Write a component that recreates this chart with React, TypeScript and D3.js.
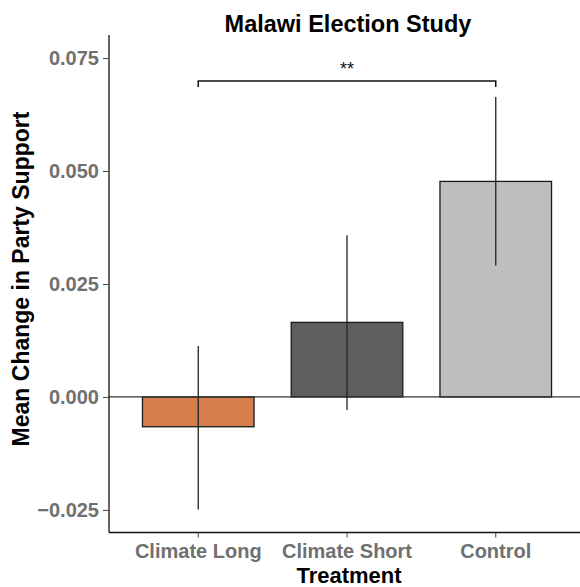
import React, { useEffect, useRef } from 'react';
import * as d3 from 'd3';

// treatment groups and their mean change with CI bounds
const categories = ['Climate Long', 'Climate Short', 'Control'];
const means = [-0.0066, 0.0165, 0.0477];
const lower = [-0.0249, -0.0029, 0.0291];
const upper = [0.0113, 0.0358, 0.0664];
const fills = ['#D67F4C', '#5E5E5E', '#BEBEBE'];
const yTicks = [-0.025, 0, 0.025, 0.05, 0.075];
const bracket = { from: 'Climate Long', to: 'Control', y: 0.0699, label: '**' };

const W = 580;
const H = 587;

const App = () => {
  const ref = useRef<SVGSVGElement>(null);

  useEffect(() => {
    const svg = d3.select(ref.current);
    svg.selectAll('*').remove();

    const margin = { top: 35, right: -5, bottom: 54.5, left: 109 };
    const font = '"Liberation Sans", Arial, Helvetica, sans-serif';

    const x = d3.scaleBand()
      .domain(categories)
      .range([margin.left, W - margin.right])
      .paddingInner(0.25)
      .paddingOuter(0.225);

    const y = d3.scaleLinear()
      .domain([-0.0300, 0.0801])
      .range([H - margin.bottom, margin.top]);

    const rows = categories.map((c, i) => ({ c, m: means[i], lo: lower[i], hi: upper[i], f: fills[i] }));
    const cx = (c: string) => (x(c) as number) + x.bandwidth() / 2;

    // bars
    svg.append('g')
      .selectAll('rect')
      .data(rows)
      .join('rect')
      .attr('x', d => x(d.c) as number)
      .attr('width', x.bandwidth())
      .attr('y', d => y(Math.max(0, d.m)))
      .attr('height', d => Math.abs(y(d.m) - y(0)))
      .attr('fill', d => d.f)
      .attr('stroke', '#1a1a1a')
      .attr('stroke-width', 1.3);

    // zero line
    svg.append('line')
      .attr('x1', margin.left).attr('x2', W)
      .attr('y1', y(0)).attr('y2', y(0))
      .attr('stroke', '#333').attr('stroke-width', 1.2);

    // error bars
    svg.append('g')
      .selectAll('line')
      .data(rows)
      .join('line')
      .attr('x1', d => cx(d.c)).attr('x2', d => cx(d.c))
      .attr('y1', d => y(d.lo)).attr('y2', d => y(d.hi))
      .attr('stroke', '#222').attr('stroke-width', 1.3);

    // significance bracket
    const bx1 = cx(bracket.from);
    const bx2 = cx(bracket.to);
    const by = y(bracket.y);
    svg.append('path')
      .attr('d', `M${bx1},${by + 6}V${by}H${bx2}V${by + 6}`)
      .attr('fill', 'none')
      .attr('stroke', '#111')
      .attr('stroke-width', 1.5);
    svg.append('text')
      .attr('x', (bx1 + bx2) / 2)
      .attr('y', by - 6)
      .attr('text-anchor', 'middle')
      .attr('font-family', font)
      .attr('font-size', 18)
      .attr('fill', '#111')
      .text(bracket.label);

    // y axis
    const fmt = d3.format('.3f');
    const yAxis = svg.append('g')
      .attr('transform', `translate(${margin.left},0)`)
      .call(d3.axisLeft(y).tickValues(yTicks).tickSize(6).tickPadding(4)
        .tickFormat(d => (+d < 0 ? '\u2212' + fmt(-d) : fmt(+d))));
    yAxis.select('.domain').attr('d', `M0,${margin.top}V${H - margin.bottom}`).attr('stroke', '#111').attr('stroke-width', 1.3);
    yAxis.selectAll('.tick line').attr('stroke', '#444');
    yAxis.selectAll('.tick text')
      .attr('font-family', font).attr('font-size', 20).attr('font-weight', 'bold').attr('fill', '#707070');

    // x axis
    const xAxis = svg.append('g')
      .attr('transform', `translate(0,${H - margin.bottom})`)
      .call(d3.axisBottom(x).tickSize(5).tickPadding(6));
    xAxis.select('.domain').attr('d', `M${margin.left},0H${W}`).attr('stroke', '#111').attr('stroke-width', 1.3);
    xAxis.selectAll('.tick line').attr('stroke', '#444');
    xAxis.selectAll('.tick text')
      .attr('font-family', font).attr('font-size', 20).attr('font-weight', 'bold').attr('fill', '#707070');

    // titles
    svg.append('text')
      .attr('x', 348).attr('y', 32)
      .attr('text-anchor', 'middle')
      .attr('font-family', font).attr('font-size', 23.5).attr('font-weight', 'bold')
      .text('Malawi Election Study');

    svg.append('text')
      .attr('x', 349).attr('y', 583)
      .attr('text-anchor', 'middle')
      .attr('font-family', font).attr('font-size', 22).attr('font-weight', 'bold')
      .text('Treatment');

    svg.append('text')
      .attr('transform', `translate(29,279) rotate(-90)`)
      .attr('text-anchor', 'middle')
      .attr('font-family', font).attr('font-size', 23).attr('font-weight', 'bold')
      .text('Mean Change in Party Support');
  }, []);

  return (
    <svg
      ref={ref}
      width={W}
      height={H}
      style={{ position: 'absolute', left: 0, top: 0, background: '#fff' }}
    />
  );
};

export default App;
